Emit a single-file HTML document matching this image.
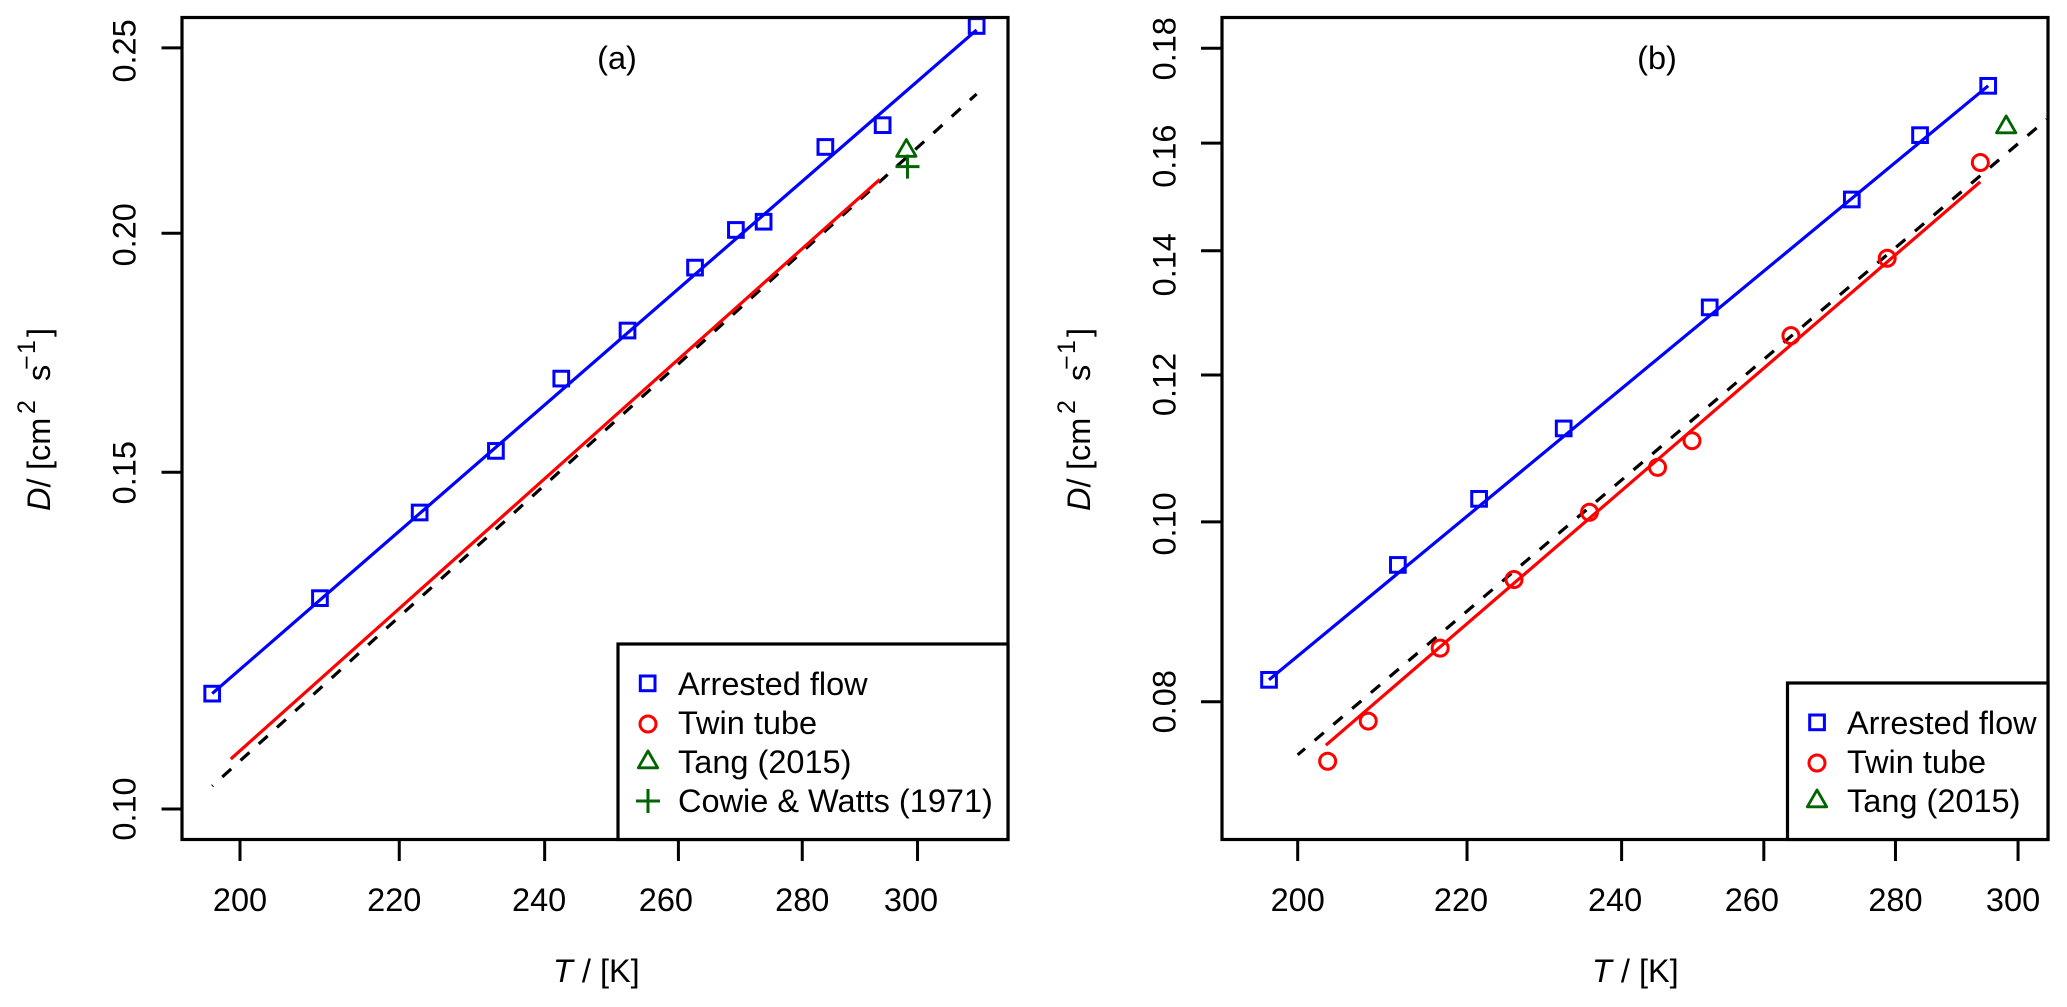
<!DOCTYPE html>
<html lang="en">
<head>
<meta charset="utf-8">
<title>Diffusion coefficient vs temperature</title>
<style>
html,body{margin:0;padding:0;background:#fff;width:2067px;height:1007px;overflow:hidden}
svg{display:block}
text{font-family:"Liberation Sans",Arial,sans-serif;font-size:32.5px;fill:#000}
</style>
</head>
<body>
<svg id="fig" width="2067" height="1007" viewBox="0 0 2067 1007" xmlns="http://www.w3.org/2000/svg">
  <rect x="0" y="0" width="2067" height="1007" fill="#fff"/>
  <g id="panel-a">
    <g id="a-marks"></g>
    <g id="a-axes"></g>
    <rect x="182" y="17.5" width="826" height="822" fill="none" stroke="#000" stroke-width="3.2"/>
    <text x="617" y="69" text-anchor="middle">(a)</text>
    <text x="553" y="982"><tspan font-style="italic">T</tspan> / [K]</text>
    <text transform="translate(50,511) rotate(-90)"><tspan font-style="italic">D</tspan><tspan>/</tspan><tspan x="41">[cm</tspan><tspan x="97" dy="-15" font-size="25">2</tspan><tspan x="130" dy="15">s</tspan><tspan x="141" dy="-15" font-size="25">−</tspan><tspan x="157" font-size="25">1</tspan><tspan x="174" dy="15">]</tspan></text>
    <g>
      <rect x="618" y="644" width="390" height="195.5" fill="#fff" stroke="#000" stroke-width="3.2"/>
      <rect x="640.3" y="676" width="14.7" height="14.7" fill="none" stroke="#0000ff" stroke-width="3"/>
      <text x="678" y="695">Arrested flow</text>
      <circle cx="648" cy="724" r="8" fill="none" stroke="#ff0000" stroke-width="3"/>
      <text x="678" y="734">Twin tube</text>
      <path d="M648 751L657.7 767.8L638.3 767.8Z" fill="none" stroke="#006400" stroke-width="2.8" stroke-linejoin="round"/>
      <text x="678" y="773">Tang (2015)</text>
      <path d="M636 801L660 801M648 789L648 813" fill="none" stroke="#006400" stroke-width="3"/>
      <text x="678" y="812">Cowie &amp; Watts (1971)</text>
    </g>
  </g>
  <g id="panel-b">
    <g id="b-marks"></g>
    <g id="b-axes"></g>
    <rect x="1222" y="17.5" width="826" height="822" fill="none" stroke="#000" stroke-width="3.2"/>
    <text x="1657" y="69" text-anchor="middle">(b)</text>
    <text x="1592" y="982"><tspan font-style="italic">T</tspan> / [K]</text>
    <text transform="translate(1090,511) rotate(-90)"><tspan font-style="italic">D</tspan><tspan>/</tspan><tspan x="41">[cm</tspan><tspan x="97" dy="-15" font-size="25">2</tspan><tspan x="130" dy="15">s</tspan><tspan x="141" dy="-15" font-size="25">−</tspan><tspan x="157" font-size="25">1</tspan><tspan x="174" dy="15">]</tspan></text>
    <g>
      <rect x="1787.5" y="683" width="260.5" height="156.5" fill="#fff" stroke="#000" stroke-width="3.2"/>
      <rect x="1809.7" y="715" width="14.7" height="14.7" fill="none" stroke="#0000ff" stroke-width="3"/>
      <text x="1847" y="734">Arrested flow</text>
      <circle cx="1817" cy="763" r="8" fill="none" stroke="#ff0000" stroke-width="3"/>
      <text x="1847" y="773">Twin tube</text>
      <path d="M1817 790L1826.7 806.8L1807.3 806.8Z" fill="none" stroke="#006400" stroke-width="2.8" stroke-linejoin="round"/>
      <text x="1847" y="812">Tang (2015)</text>
    </g>
  </g>
</svg>
<script>
// Panel (a) data
const xTickValues = [200, 220, 240, 260, 280, 300];
const xTickLabels = ["200", "220", "240", "260", "280", "300"];
const aYTickValues = [0.10, 0.15, 0.20, 0.25];
const aYTickLabels = ["0.10", "0.15", "0.20", "0.25"];
const aArrestedT = [196.7, 209.8, 222.7, 233.1, 242.4, 252.2, 262.6, 269.1, 273.6, 283.9, 293.8, 310.8];
const aArrestedD = [0.1149, 0.1289, 0.1429, 0.1539, 0.1679, 0.1779, 0.1919, 0.2008, 0.2028, 0.2219, 0.2278, 0.2567];
const aArrestedFitT = [196.7, 310.8];
const aArrestedFitD = [0.1149, 0.2555];
const aTwinFitT = [198.9, 293.3];
const aTwinFitD = [0.1062, 0.2134];
const aDashedFitT = [196.7, 310.8];
const aDashedFitD = [0.1028, 0.2365];
const aTangT = [298.0];
const aTangD = [0.2209];
const aCowieT = [298.2];
const aCowieD = [0.2167];

// Panel (b) data
const bYTickValues = [0.08, 0.10, 0.12, 0.14, 0.16, 0.18];
const bYTickLabels = ["0.08", "0.10", "0.12", "0.14", "0.16", "0.18"];
const bArrestedT = [196.8, 211.6, 221.5, 232.3, 252.2, 273.2, 283.9, 295.0];
const bArrestedD = [0.0822, 0.0948, 0.1029, 0.1123, 0.1305, 0.1492, 0.1616, 0.1718];
const bArrestedFitT = [196.8, 295.0];
const bArrestedFitD = [0.0822, 0.1718];
const bTwinT = [203.4, 208.1, 216.7, 225.9, 235.7, 244.9, 249.7, 264.0, 278.7, 293.7];
const bTwinD = [0.0743, 0.0781, 0.0855, 0.0931, 0.1012, 0.1070, 0.1106, 0.1260, 0.1387, 0.1562];
const bTwinFitT = [203.2, 293.7];
const bTwinFitD = [0.0758, 0.1525];
const bDashedFitT = [200.0, 304.9];
const bDashedFitD = [0.0749, 0.1648];
const bTangT = [298.0];
const bTangD = [0.1632];

const NS = 'http://www.w3.org/2000/svg';
const BLUE = '#0000ff', RED = '#ff0000', GREEN = '#006400';

// Axis functions (log scales)
function ax(T) { return 240 + 1671 * Math.log(T / 200); }
function ay(D) { return 809 - 830.6 * Math.log(D / 0.10); }
function bx(T) { return 1297.7 + 1776.6 * Math.log(T / 200); }
function by(D) { return 701.7 - 805.8 * Math.log(D / 0.08); }

function make(parent, tag, attrs) {
  const el = document.createElementNS(NS, tag);
  for (const k in attrs) el.setAttribute(k, attrs[k]);
  parent.appendChild(el);
  return el;
}

function fitLine(parent, name, Ts, Ds, sx, sy, color, dashOffset) {
  const pts = Ts.map(function (t, i) { return sx(t).toFixed(1) + ',' + sy(Ds[i]).toFixed(1); }).join(' ');
  const attrs = { points: pts, fill: 'none', stroke: color, 'stroke-width': 3.2 };
  if (dashOffset !== undefined) {
    attrs['stroke-dasharray'] = '12 12.6';
    attrs['stroke-dashoffset'] = dashOffset;
  }
  const el = make(parent, 'polyline', attrs);
  
  
}

function squares(parent, name, Ts, Ds, sx, sy) {
  Ts.forEach(function (t, i) {
    const el = make(parent, 'rect', { x: sx(t) - 7.35, y: sy(Ds[i]) - 7.35, width: 14.7, height: 14.7, fill: 'none', stroke: BLUE, 'stroke-width': 3 });
    
    
  });
}

function circles(parent, name, Ts, Ds, sx, sy) {
  Ts.forEach(function (t, i) {
    const el = make(parent, 'circle', { cx: sx(t), cy: sy(Ds[i]), r: 8, fill: 'none', stroke: RED, 'stroke-width': 3 });
    
    
  });
}

function triangles(parent, name, Ts, Ds, sx, sy) {
  Ts.forEach(function (t, i) {
    const x = sx(t), y = sy(Ds[i]);
    const d = 'M' + x + ' ' + (y - 11.2) + 'L' + (x + 9.7) + ' ' + (y + 5.6) + 'L' + (x - 9.7) + ' ' + (y + 5.6) + 'Z';
    const el = make(parent, 'path', { d: d, fill: 'none', stroke: GREEN, 'stroke-width': 2.8, 'stroke-linejoin': 'round' });
    
    
  });
}

function pluses(parent, name, Ts, Ds, sx, sy) {
  Ts.forEach(function (t, i) {
    const x = sx(t), y = sy(Ds[i]);
    const d = 'M' + (x - 12) + ' ' + y + 'L' + (x + 12) + ' ' + y + 'M' + x + ' ' + (y - 12) + 'L' + x + ' ' + (y + 12);
    const el = make(parent, 'path', { d: d, fill: 'none', stroke: GREEN, 'stroke-width': 3 });
    
    
  });
}

function xAxis(parent, prefix, sx, nudge) {
  xTickValues.forEach(function (v, i) {
    const x = sx(v);
    const tick = make(parent, 'line', { x1: x, x2: x, y1: 840, y2: 861, stroke: '#000', 'stroke-width': 3 });
    
    
    const lab = make(parent, 'text', { x: x + nudge[i], y: 911, 'text-anchor': 'middle' });
    
    
    lab.textContent = xTickLabels[i];
  });
}

function yAxis(parent, prefix, sy, values, labels, tickLeft, tickRight, baseX, nudge) {
  values.forEach(function (v, i) {
    const y = sy(v);
    const tick = make(parent, 'line', { x1: tickLeft, x2: tickRight, y1: y, y2: y, stroke: '#000', 'stroke-width': 3 });
    
    
    const yy = y + nudge[i];
    const lab = make(parent, 'text', { 'text-anchor': 'middle', transform: 'translate(' + baseX + ',' + yy + ') rotate(-90)' });
    
    
    lab.textContent = labels[i];
  });
}

const aMarks = document.getElementById('a-marks');
const aAxes = document.getElementById('a-axes');
fitLine(aMarks, 'panel-a-reference-fit-dashed', aDashedFitT, aDashedFitD, ax, ay, '#000', 11);
fitLine(aMarks, 'panel-a-arrested-flow-fit', aArrestedFitT, aArrestedFitD, ax, ay, BLUE);
fitLine(aMarks, 'panel-a-twin-tube-fit', aTwinFitT, aTwinFitD, ax, ay, RED);
squares(aMarks, 'panel-a-arrested-flow-point', aArrestedT, aArrestedD, ax, ay);
triangles(aMarks, 'panel-a-tang-point', aTangT, aTangD, ax, ay);
pluses(aMarks, 'panel-a-cowie-watts-point', aCowieT, aCowieD, ax, ay);
xAxis(aAxes, 'panel-a', ax, [0, -5, -5.5, -12.5, 0, -6.5]);
yAxis(aAxes, 'panel-a', ay, aYTickValues, aYTickLabels, 161.5, 182, 135.5, [0, 0.5, 1.5, 3]);

const bMarks = document.getElementById('b-marks');
const bAxes = document.getElementById('b-axes');
fitLine(bMarks, 'panel-b-reference-fit-dashed', bDashedFitT, bDashedFitD, bx, by, '#000', 2.4);
fitLine(bMarks, 'panel-b-arrested-flow-fit', bArrestedFitT, bArrestedFitD, bx, by, BLUE);
fitLine(bMarks, 'panel-b-twin-tube-fit', bTwinFitT, bTwinFitD, bx, by, RED);
squares(bMarks, 'panel-b-arrested-flow-point', bArrestedT, bArrestedD, bx, by);
circles(bMarks, 'panel-b-twin-tube-point', bTwinT, bTwinD, bx, by);
triangles(bMarks, 'panel-b-tang-point', bTangT, bTangD, bx, by);
xAxis(bAxes, 'panel-b', bx, [0, -6, -6.5, -12, 0, -5]);
yAxis(bAxes, 'panel-b', by, bYTickValues, bYTickLabels, 1201, 1222, 1175.5, [0, 2, 9.5, 14, 13, 0.5]);
</script>
</body>
</html>
